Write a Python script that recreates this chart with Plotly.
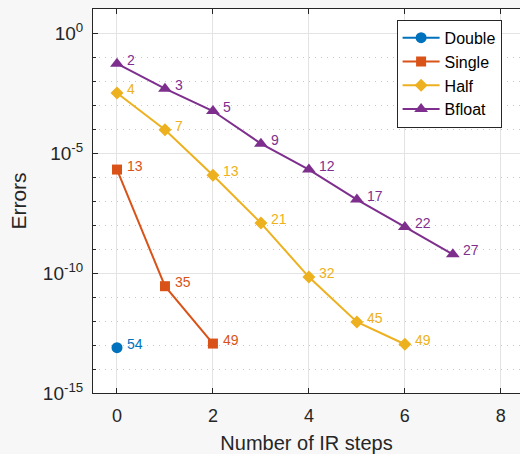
import math
import plotly.graph_objects as go

# IR step indices and final errors per precision
steps_double = [0]
err_double = [10 ** -13.11]
lbl_double = ["54"]

steps_single = [0, 1, 2]
err_single = [10 ** -5.69, 10 ** -10.55, 10 ** -12.94]
lbl_single = ["13", "35", "49"]

steps_half = [0, 1, 2, 3, 4, 5, 6]
err_half = [10 ** -2.50, 10 ** -4.03, 10 ** -5.93, 10 ** -7.92,
            10 ** -10.17, 10 ** -12.04, 10 ** -12.97]
lbl_half = ["4", "7", "13", "21", "32", "45", "49"]

steps_bfloat = [0, 1, 2, 3, 4, 5, 6, 7]
err_bfloat = [10 ** -1.28, 10 ** -2.32, 10 ** -3.25, 10 ** -4.61,
              10 ** -5.69, 10 ** -6.94, 10 ** -8.08, 10 ** -9.22]
lbl_bfloat = ["2", "3", "5", "9", "12", "17", "22", "27"]

x_ticks = [0, 2, 4, 6, 8]
y_ticks = [1e0, 1e-5, 1e-10, 1e-15]
y_ticktext = ["10<sup>0</sup>", "10<sup>-5</sup>", "10<sup>-10</sup>", "10<sup>-15</sup>"]

FONT = "Liberation Sans, Arial, Helvetica, sans-serif"
AXIS_COL = "#262626"

series = [
    ("Double", steps_double, err_double, lbl_double, "#0072BD", "circle", 11),
    ("Single", steps_single, err_single, lbl_single, "#D95319", "square", 10),
    ("Half", steps_half, err_half, lbl_half, "#EDB120", "diamond", 10),
    ("Bfloat", steps_bfloat, err_bfloat, lbl_bfloat, "#7E2F8E", "triangle-up", 12),
]

fig = go.Figure()
annotations = []
for name, xs, ys, labels, color, symbol, msize in series:
    fig.add_trace(go.Scatter(
        x=xs, y=ys, name=name, mode="lines+markers",
        line=dict(color=color, width=2),
        marker=dict(symbol=symbol, size=msize, color=color, line=dict(width=0)),
    ))
    # iteration counts written beside each point (annotation y is log10 on a log axis)
    for xv, yv, t in zip(xs, ys, labels):
        annotations.append(dict(
            x=xv, y=math.log10(yv), xref="x", yref="y", text=t, showarrow=False,
            xanchor="left", yanchor="middle", xshift=8, yshift=4,
            font=dict(family=FONT, size=14, color=color),
        ))

fig.update_layout(
    width=520, height=454,
    margin=dict(l=93, r=0, t=9, b=61),
    paper_bgcolor="#f7f7f7",
    plot_bgcolor="white",
    font=dict(family=FONT, color=AXIS_COL),
    annotations=annotations,
    showlegend=True,
    legend=dict(
        x=0.711, y=0.972, xanchor="left", yanchor="top",
        bgcolor="white", bordercolor=AXIS_COL, borderwidth=1,
        font=dict(family=FONT, size=16, color="black"),
        tracegroupgap=0, itemwidth=37,
    ),
)

fig.update_xaxes(
    range=[-0.5, 8.4], tickvals=x_ticks,
    showgrid=True, gridcolor="#e3e3e3", gridwidth=1, zeroline=False,
    showline=True, linecolor=AXIS_COL, linewidth=1, mirror="ticks",
    ticks="inside", ticklen=5, tickcolor=AXIS_COL,
    ticklabelstandoff=6,
    tickfont=dict(family=FONT, size=18, color=AXIS_COL),
    title=dict(text="Number of IR steps", font=dict(family=FONT, size=20, color=AXIS_COL),
               standoff=11),
)

fig.update_yaxes(
    type="log", range=[-15, 1],
    tickvals=y_ticks, ticktext=y_ticktext,
    showgrid=True, gridcolor="#e3e3e3", gridwidth=1, zeroline=False,
    showline=True, linecolor=AXIS_COL, linewidth=1,
    ticks="inside", ticklen=5, tickcolor=AXIS_COL,
    ticklabelstandoff=5,
    tickfont=dict(family=FONT, size=19, color=AXIS_COL),
    minor=dict(
        tickvals=[10.0 ** k for k in range(-15, 2)],
        ticks="inside", ticklen=3, tickcolor=AXIS_COL,
        showgrid=True, gridcolor="#c8c8c8", griddash="1px,5px", gridwidth=1,
    ),
    title=dict(text="Errors", font=dict(family=FONT, size=21, color=AXIS_COL), standoff=10),
)

fig.write_html("out.html")
